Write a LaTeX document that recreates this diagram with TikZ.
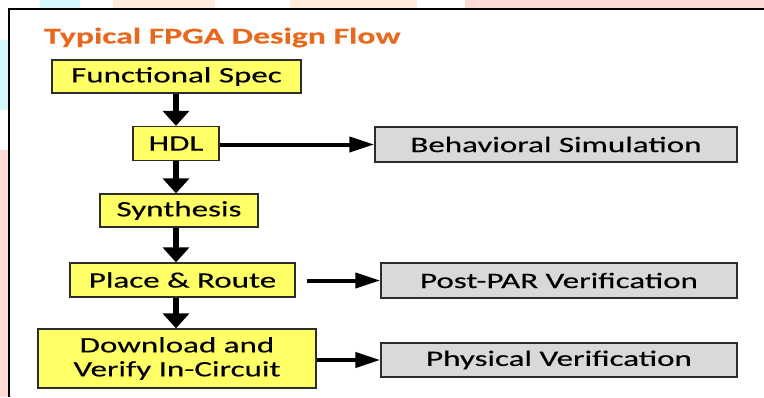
\documentclass[tikz,border=0pt]{standalone}
\usepackage{fontspec}
\setmainfont{Carlito}[FakeStretch=1.5, FakeBold=0.3]
\usetikzlibrary{arrows.meta}

\definecolor{titleorange}{RGB}{232,105,30}
\definecolor{stepyellow}{RGB}{255,255,102}
\definecolor{checkgray}{RGB}{217,217,217}
\definecolor{edgegray}{RGB}{45,45,45}
\definecolor{washpink}{RGB}{255,218,214}
\definecolor{washpeach}{RGB}{255,236,220}
\definecolor{washcyan}{RGB}{212,248,252}

\tikzset{
  flowbox/.style={draw=edgegray, line width=1.3pt, inner sep=0pt,
    font=\fontsize{22}{24}\selectfont, text=black, align=center},
  stage/.style={flowbox, fill=stepyellow},
  check/.style={flowbox, fill=checkgray},
  varr/.style={line width=6.5pt, -{Triangle[width=26pt,length=15pt]}},
  harr/.style={line width=4pt, -{Triangle[width=15pt,length=25pt]}},
}

\begin{document}
\begin{tikzpicture}[x=1pt, y=-1pt]
  \useasboundingbox (0,0) rectangle (764,397);
  \fill[white] (0,0) rectangle (764,397);

  % faint washes around the panel
  \fill[washcyan]  (40,0) rectangle (80,8.5);
  \fill[washpeach] (113,0) rectangle (215,8.5);
  \fill[washpeach] (290,0) rectangle (417,8.5);
  \fill[washpink]  (465,0) rectangle (764,8.5);
  \fill[washcyan]  (0,40) rectangle (9,110);
  \fill[washpink]  (0,150) rectangle (9,397);

  % panel frame
  \draw[black, line width=1.5pt] (9,397) -- (9,9) -- (764,9);

  % title
  \node[anchor=base west, text=titleorange, inner sep=0pt,
        font=\bfseries\fontsize{22.5}{24}\selectfont] (title) at (44,43.5)
        {Typical FPGA Design Flow};

  % design stages
  \node[stage, minimum width=249pt, minimum height=33pt] (spec) at (176.5,76.5) {Functional Spec};
  \node[stage, minimum width=86pt,  minimum height=34pt] (hdl)  at (176,143.5) {HDL};
  \node[stage, minimum width=158pt, minimum height=33pt] (syn)  at (179,210.5) {Synthesis};
  \node[stage, minimum width=225pt, minimum height=34pt] (par)  at (182.5,280) {Place \& Route};
  \node[stage, minimum width=278pt, minimum height=59pt] (dl)   at (177,358.5) {Download and\\Verify In-Circuit};

  % verification steps
  \node[check, minimum width=362pt, minimum height=35pt] (beh)  at (556,144.5) {Behavioral Simulation};
  \node[check, minimum width=356pt, minimum height=35pt] (post) at (559,280.5) {Post-PAR Verification};
  \node[check, minimum width=356pt, minimum height=34pt] (phys) at (559,360) {Physical Verification};

  % main flow column
  \coordinate (axis) at (176,0);
  \draw[varr] (spec.south -| axis) -- (hdl.north -| axis);
  \draw[varr] (hdl.south -| axis)  -- (syn.north -| axis);
  \draw[varr] (syn.south -| axis)  -- (par.north -| axis);
  \draw[varr] (par.south -| axis)  -- (dl.north -| axis);

  % side branches
  \draw[harr] (hdl.east |- beh.west) -- (beh.west);
  \draw[harr, shorten <=11pt] (par.east |- post.west) -- (post.west);
  \draw[harr] (dl.east |- phys.west) -- (phys.west);
\end{tikzpicture}
\end{document}
